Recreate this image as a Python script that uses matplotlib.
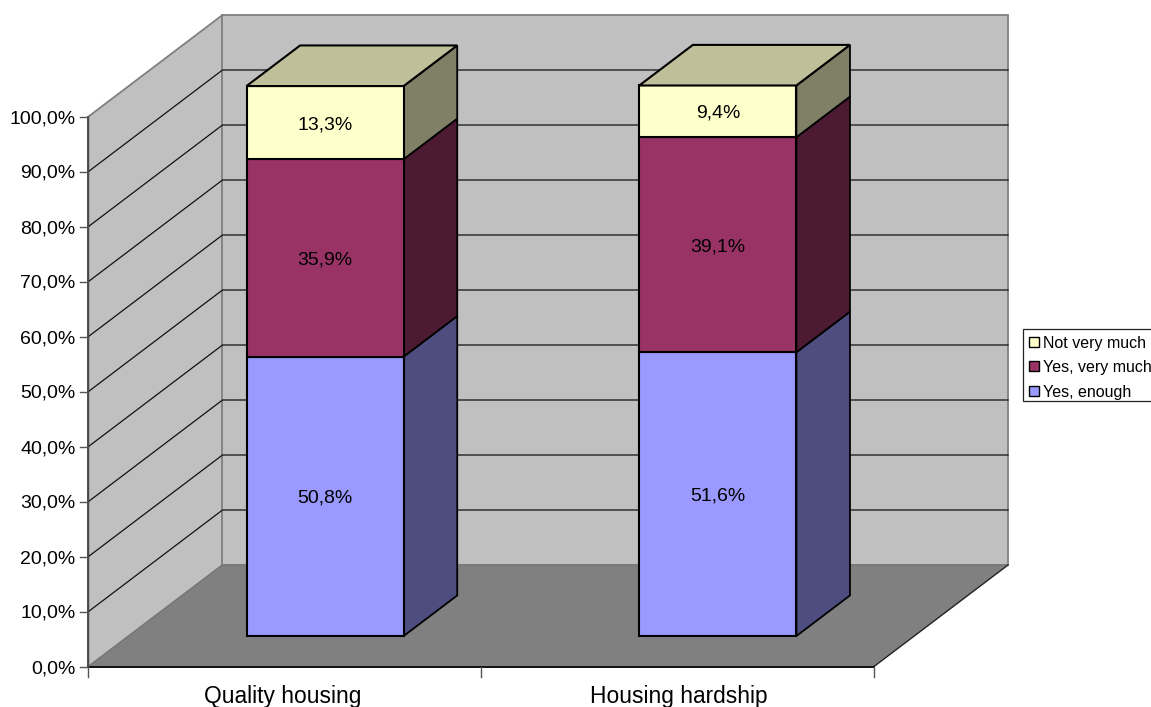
import matplotlib
matplotlib.use("Agg")
import matplotlib.pyplot as plt
from matplotlib.patches import Polygon, Rectangle

plt.rcParams['font.family'] = ['Liberation Sans', 'DejaVu Sans']

# Survey shares per category, stacked from the bottom up
categories = ["Quality housing", "Housing hardship"]
series_names = ["Yes, enough", "Yes, very much", "Not very much"]
yes_enough = [50.8, 51.6]
yes_very_much = [35.9, 39.1]
not_very_much = [13.3, 9.4]
y_ticks = [0, 10, 20, 30, 40, 50, 60, 70, 80, 90, 100]

FRONT = ["#9999FF", "#993366", "#FFFFCC"]
SIDE = ["#4D4D80", "#4D1A33", "#808066"]
TOP = ["#BFBF99"]
WALL = "#C0C0C0"
FLOOR = "#808080"
EDGE_GREY = "#808080"

# Oblique projection: category units, percent and depth fraction to canvas pixels
X0, Y0 = 88.5, 666.5
CAT_W, PCT_H = 392.75, 5.5
DEPTH_X, DEPTH_Y = 134.0, 101.5
BAR_START, BAR_W = 0.3, 0.4   # both as a fraction of a category
DEPTH_START, DEPTH_SPAN = 0.3, 0.4
LABEL_NUDGE = [-2.5, 1.0]     # horizontal pixel adjustment of the category labels


def proj(cat, pct, depth=0.0):
    return (X0 + cat * CAT_W + depth * DEPTH_X,
            Y0 - pct * PCT_H - depth * DEPTH_Y)


fig = plt.figure(figsize=(11.51, 7.07), dpi=100, facecolor="white")
ax = fig.add_axes([0, 0, 1, 1])
ax.set_xlim(0, 1151)
ax.set_ylim(707, 0)
ax.axis("off")

n = len(categories)
top_pct = y_ticks[-1]

# Walls and floor
ax.add_patch(Polygon([proj(0, 0), proj(0, top_pct), proj(0, top_pct, 1), proj(0, 0, 1)],
                     fc=WALL, ec=EDGE_GREY, lw=1.3, zorder=1))
ax.add_patch(Polygon([proj(0, 0, 1), proj(0, top_pct, 1), proj(n, top_pct, 1), proj(n, 0, 1)],
                     fc=WALL, ec=EDGE_GREY, lw=1.3, zorder=1))

# Gridlines run along the side wall and across the back wall
for t in y_ticks[1:-1]:
    ax.plot(*zip(proj(0, t), proj(0, t, 1), proj(n, t, 1)),
            color="#111111", lw=0.9, zorder=2, solid_joinstyle="miter")

ax.add_patch(Polygon([proj(0, 0), proj(0, 0, 1), proj(n, 0, 1), proj(n, 0)],
                     fc=FLOOR, ec="none", zorder=3))
ax.plot(*zip(proj(0, 0), proj(0, 0, 1), proj(n, 0, 1)), color="#777777", lw=1.0, zorder=3)
ax.plot(*zip(proj(n, 0, 1), proj(n, 0)), color="#222222", lw=1.0, zorder=3)

# Axis lines, ticks and tick labels
ax.plot(*zip(proj(0, 0), proj(n, 0)), color="black", lw=1.3, zorder=4)
ax.plot(*zip(proj(0, 0), proj(0, top_pct)), color="#444444", lw=1.3, zorder=4)
for t in y_ticks:
    x, y = proj(0, t)
    ax.plot([x - 8, x], [y, y], color="#555555", lw=1.0, zorder=4)
    ax.text(75.5, y, f"{t:.1f}%".replace(".", ","), ha="right", va="center_baseline",
            fontsize=14.0, color="black", zorder=6)
for c in range(n + 1):
    x, y = proj(c, 0)
    ax.plot([x, x], [y, y + 10], color="#555555", lw=1.0, zorder=4)
for c, name in enumerate(categories):
    x, _ = proj(c + 0.5, 0)
    ax.text(x + LABEL_NUDGE[c], 703, name, ha="center", va="baseline",
            fontsize=16.4, color="black", zorder=6)

# Stacked 3D bars
stacks = [yes_enough, yes_very_much, not_very_much]
for c in range(n):
    left = c + BAR_START
    right = left + BAR_W
    d0, d1 = DEPTH_START, DEPTH_START + DEPTH_SPAN
    base = 0.0
    for s, values in enumerate(stacks):
        v = values[c]
        head = base + v
        ax.add_patch(Polygon([proj(right, base, d0), proj(right, head, d0),
                              proj(right, head, d1), proj(right, base, d1)],
                             fc=SIDE[s], ec="black", lw=1.3, zorder=5, joinstyle="miter"))
        ax.add_patch(Polygon([proj(left, base, d0), proj(left, head, d0),
                              proj(right, head, d0), proj(right, base, d0)],
                             fc=FRONT[s], ec="black", lw=1.5, zorder=5, joinstyle="miter"))
        cx, cy = proj((left + right) / 2, base + v / 2, d0)
        ax.text(cx, cy, f"{v:.1f}%".replace(".", ","), ha="center", va="center_baseline",
                fontsize=14.0, color="black", zorder=6)
        base = head
    ax.add_patch(Polygon([proj(left, base, d0), proj(left, base, d1),
                          proj(right, base, d1), proj(right, base, d0)],
                         fc=TOP[0], ec="black", lw=1.5, zorder=5, joinstyle="miter"))

# Legend box runs off the right edge of the canvas
ax.add_patch(Rectangle((1023.5, 328.5), 160, 72.5, fc="white", ec="#222222", lw=0.9,
                       zorder=6, clip_on=True))
legend_rows = [342, 366, 391]
for row_y, idx in zip(legend_rows, [2, 1, 0]):
    ax.add_patch(Rectangle((1029.5, row_y - 5), 10, 10, fc=FRONT[idx], ec="black", lw=1.0, zorder=7))
    ax.text(1043.5, row_y, series_names[idx], ha="left", va="center_baseline",
            fontsize=11.5, color="black", zorder=7)

fig.savefig("out.png", dpi=100, facecolor="white")
